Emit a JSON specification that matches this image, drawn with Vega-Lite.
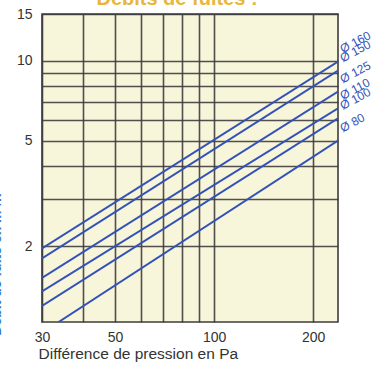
{
  "$schema": "https://vega.github.io/schema/vega-lite/v6.json",
  "width": 296,
  "height": 308,
  "autosize": {"type": "none"},
  "padding": {"left": 42, "top": 14, "right": 44, "bottom": 45},
  "background": "white",
  "title": {
    "text": "Débits de fuites :",
    "color": "#e8b63c",
    "fontSize": 20,
    "fontWeight": "bold",
    "font": "Liberation Sans",
    "anchor": "middle",
    "dx": -13,
    "offset": -2
  },
  "config": {
    "view": {"fill": "#f8f6da", "stroke": "#3d3d3d", "strokeWidth": 1.6},
    "font": "Liberation Sans"
  },
  "data": {
    "values": [
      {"diam": "Ø 160", "p": 30, "q": 1.96},
      {"diam": "Ø 160", "p": 238, "q": 9.93},
      {"diam": "Ø 150", "p": 30, "q": 1.8},
      {"diam": "Ø 150", "p": 238, "q": 9.18},
      {"diam": "Ø 125", "p": 30, "q": 1.52},
      {"diam": "Ø 125", "p": 238, "q": 7.65},
      {"diam": "Ø 110", "p": 30, "q": 1.35},
      {"diam": "Ø 110", "p": 238, "q": 6.62},
      {"diam": "Ø 100", "p": 30, "q": 1.19},
      {"diam": "Ø 100", "p": 238, "q": 6.07},
      {"diam": "Ø 80", "p": 33.7, "q": 1.036},
      {"diam": "Ø 80", "p": 238, "q": 5.0}
    ]
  },
  "layer": [
    {
      "mark": {"type": "line", "color": "#3352b8", "strokeWidth": 2, "clip": true},
      "encoding": {
        "x": {
          "field": "p",
          "type": "quantitative",
          "scale": {"type": "log", "domain": [30, 238], "nice": false},
          "axis": {
            "values": [30, 40, 50, 60, 70, 80, 90, 100, 200],
            "labelExpr": "indexof([30, 50, 100, 200], datum.value) >= 0 ? datum.label : ''",
            "labelOverlap": false,
            "labelFlush": false,
            "format": "d",
            "ticks": false,
            "domain": false,
            "grid": true,
            "gridColor": "#3d3d3d",
            "gridWidth": 1.6,
            "gridOpacity": 0.9,
            "labelFontSize": 14,
            "labelColor": "#333333",
            "labelPadding": 8,
            "title": "Différence de pression en Pa",
            "titleFontSize": 15.5,
            "titleFontWeight": "normal",
            "titleColor": "#333333",
            "titleAnchor": "start",
            "titleAlign": "left",
            "titleBaseline": "alphabetic",
            "titleX": -4,
            "titleY": 36
          }
        },
        "y": {
          "field": "q",
          "type": "quantitative",
          "scale": {"type": "log", "domain": [1.036, 15], "nice": false},
          "axis": {
            "values": [2, 3, 4, 5, 6, 7, 8, 9, 10, 15],
            "labelExpr": "indexof([2, 5, 10, 15], datum.value) >= 0 ? datum.label : ''",
            "labelOverlap": false,
            "format": "d",
            "ticks": false,
            "domain": false,
            "grid": true,
            "gridColor": "#3d3d3d",
            "gridWidth": 1.6,
            "gridOpacity": 0.9,
            "labelFontSize": 14,
            "labelColor": "#333333",
            "labelPadding": 10,
            "title": "Débit de fuite en m³/h",
            "titleFontSize": 14,
            "titleFontWeight": "bold",
            "titleColor": "#3a7cc8",
            "titleAlign": "center",
            "titleBaseline": "alphabetic",
            "titleAngle": 270,
            "titleX": -42,
            "titleY": 250
          }
        },
        "detail": {"field": "diam"}
      }
    },
    {
      "transform": [{"filter": "datum.p == 238"}],
      "mark": {
        "type": "text",
        "color": "#3352b8",
        "fontSize": 12,
        "align": "left",
        "baseline": "alphabetic",
        "angle": -28,
        "dx": 8,
        "dy": -5
      },
      "encoding": {
        "x": {"field": "p", "type": "quantitative"},
        "y": {"field": "q", "type": "quantitative"},
        "text": {"field": "diam"}
      }
    }
  ]
}
